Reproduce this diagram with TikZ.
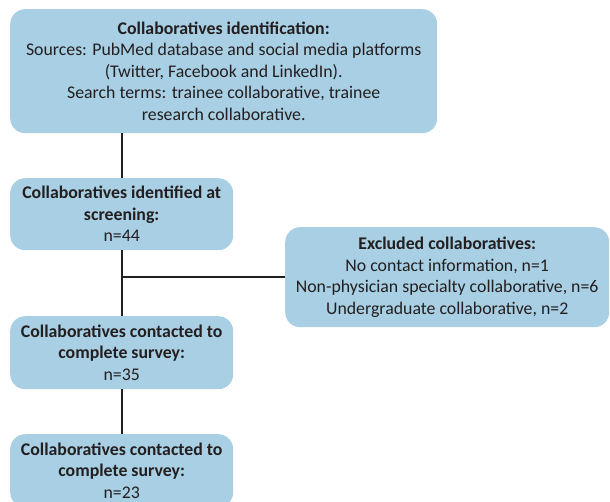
\documentclass[tikz,border=0pt]{standalone}
\usepackage{fontspec}
\setmainfont{Carlito}
\definecolor{flow_blue}{RGB}{168,207,227}
\definecolor{flow_text}{RGB}{35,31,32}

\begin{document}
\begin{tikzpicture}[x=1pt,y=-1pt,
    every node/.style={font=\fontsize{17.8}{21.5}\selectfont,text=flow_text},
    stage/.style={fill=flow_blue,rounded corners=15pt,align=center,
      inner sep=0pt,anchor=north west},
    link/.style={draw=flow_text,line width=1.8pt},
  ]
  \clip (0,0) rectangle (610,501);
  \node[stage,minimum width=427pt,minimum height=124pt] (ident) at (10,9)
    {\textbf{Collaboratives identification:}\\
     Sources: PubMed database and social media platforms\\
     (Twitter, Facebook and LinkedIn).\\
     Search terms: trainee collaborative, trainee\\
     research collaborative.};
  \node[stage,minimum width=223pt,minimum height=72pt] (screen) at (10,178)
    {\textbf{Collaboratives identified at}\\
     \textbf{screening:}\\ n=44};
  \node[stage,minimum width=324pt,minimum height=100pt] (excl) at (285,227)
    {\textbf{Excluded collaboratives:}\\
     No contact information, n=1\\
     Non-physician specialty collaborative, n=6\\
     Undergraduate collaborative, n=2};
  \node[stage,minimum width=223pt,minimum height=73pt] (contact) at (10,316)
    {\textbf{Collaboratives contacted to}\\
     \textbf{complete survey:}\\ n=35};
  \node[stage,minimum width=223pt,minimum height=73pt] (final) at (10,434)
    {\textbf{Collaboratives contacted to}\\
     \textbf{complete survey:}\\ n=23};
  % connectors
  \coordinate (top) at (screen.north |- ident.south);
  \coordinate (branch) at (screen.south |- excl.west);
  \draw[link] (top) -- (screen.north);
  \draw[link] (screen) -- (contact);
  \draw[link] (excl) -- (branch);
  \draw[link] (contact) -- (final);
\end{tikzpicture}
\end{document}
